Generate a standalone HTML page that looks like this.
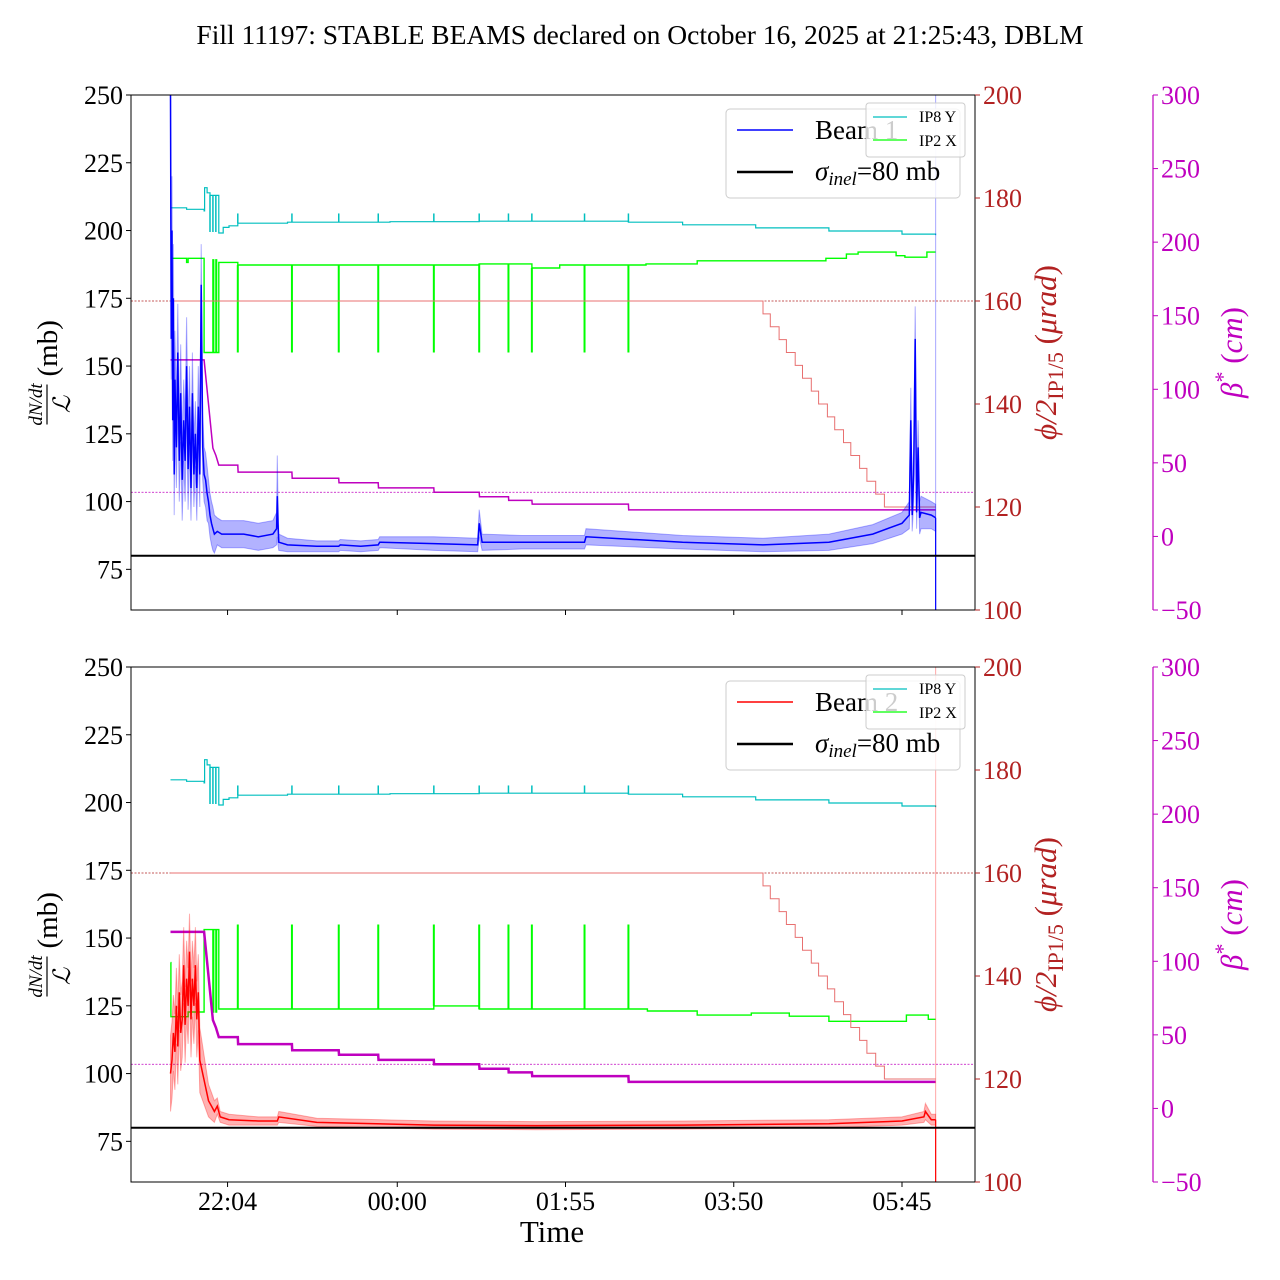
<!DOCTYPE html>
<html><head><meta charset="utf-8"><style>
html,body{margin:0;padding:0;background:#fff;}
svg{display:block;font-family:"Liberation Serif",serif;}
</style></head><body>
<svg id="chart" width="1280" height="1280" viewBox="0 0 1280 1280" xmlns="http://www.w3.org/2000/svg">
<text x="640" y="44" font-size="27.5" text-anchor="middle">Fill 11197: STABLE BEAMS declared on October 16, 2025 at 21:25:43, DBLM</text>
<text x="552" y="1242" font-size="31" text-anchor="middle">Time</text>
</svg>
<script>
// ---- data (time in minutes since 21:25) ----
const xTickMin = [39, 155, 270, 385, 500];
const xTickLabels = ["22:04", "00:00", "01:55", "03:50", "05:45"];
const leftTicks = [75, 100, 125, 150, 175, 200, 225, 250];
const redTicks = [100, 120, 140, 160, 180, 200];
const magTicks = [-50, 0, 50, 100, 150, 200, 250, 300];

const b1T = [0,0.5,1,1.5,2,2.5,3,4,5,6,7,8,9,10,11,12,13,14,15,16,17,18,19,20,21,22,23,24,25,26,27,28,29,30,32,35,40,50,60,70,72.5,73,73.5,74,80,100,115,116,130,142,143,180,210,211,213,240,283,284,350,405,450,480,500,505,506,507,508,509,510,511,512,513,520,523];
const b1V = [250,160,200,130,175,110,145,120,155,115,140,108,130,115,150,112,135,105,140,110,125,105,135,110,180,120,110,108,103,100,95,92,90,88,89,88,88,88,87,88,90,102,92,85,84,83.5,83.5,84,83.5,84,85,84.5,84,92,85,85,85,87,85,84,85,88,92,95,130,95,110,160,96,120,94,96,95,94];
const b1Err = [20,15,20,15,20,15,18,15,18,15,18,15,15,15,18,15,15,12,15,12,12,12,15,12,15,12,10,10,10,8,8,8,8,7,5,5,5,5,5,5,6,15,8,3,2.5,2,2,2,2,2,2,2.5,2.5,5,3,2.5,2.5,3,2.5,2.5,3,3.5,4,5,12,6,10,12,6,10,6,6,5,5];

const b2T = [0,1,2,3,4,5,6,7,8,9,10,11,12,13,14,15,16,17,18,19,20,22,24,26,28,30,32,34,40,60,73,74,100,180,250,350,450,500,515,516,520,523];
const b2V = [100,105,115,108,125,110,130,115,120,140,118,135,125,145,120,135,125,140,120,130,105,100,95,90,88,86,88,84,83,82.5,82.5,84,82,81,80.8,81,81.5,82.5,84,86,83,83];
const b2Err = [14,14,14,14,14,14,14,14,14,14,14,14,14,14,14,14,14,14,14,14,12,10,8,6,5,4,3,2,2,1.5,1.5,2,1.5,1.5,1.5,1.5,1.5,1.5,2,3,2,2];

const cyT = [0,11,23,23.3,25,27,33,36,40,46,80,150,211,250,313,350,400,450,500,523];
const cyV = [178.1,177.8,177.5,182,181,180.5,173.2,174.3,174.6,175.1,175.3,175.4,175.5,175.5,175.3,174.8,174.2,173.6,173,172.8];
const cySpikeT = [27, 29, 31];
const cySpikeDownV = 173.4;
const cyBlipT = [46, 83, 115, 142, 180, 211, 231, 247, 283, 313];
const cyBlipV = 177;

const gTopT = [0,0.5,11,12,23,29,29.5,31,31.5,33,46,211,247,266,325,360,448,462,470,496,502,517,523];
const gTopV = [155,168.3,167.5,168.3,150,168,150,168,150,167.5,167,167.2,166.4,167,167.2,167.8,168.3,169.1,169.5,168.8,168.5,169.5,169.5];
const gBotT = [0,0.3,12,23,29,29.5,31,31.5,33,180,211,326,360,397,423,450,503,518,523];
const gBotV = [142.6,132.1,133,149,133,149,133,149,133.6,134.2,133.6,133.2,132.4,132.8,132.2,131.2,132.4,131.6,131.6];
const gSpikeT = [46,83,115,142,180,211,231,247,283,313];
const gTopSpikeV = 150;
const gBotSpikeV = 150;

const phiT = [0,405,410,416,421,427,432,438,443,449,454,460,465,471,476,482,488,523];
const phiV = [160,157.5,155,152.5,150,147.5,145,142.5,140,137.5,135,132.5,130,127.5,125,122.5,120,120];

const mgT = [0,23,29,31,33,46,46.2,83,83.2,115,115.2,142,142.2,180,180.2,211,211.2,231,231.2,247,247.2,313,313.2,523];
const mgV = [120,120,60,55,48.5,48.5,43.7,43.7,39.6,39.6,36.5,36.5,33,33,30,30,27,27,24.5,24.5,22,22,18,18];

const sigmaInel = 80;
const phiRef = 160;
const betaRef = 30;

// ---- layout ----
const svg = document.getElementById('chart');
const NS = 'http://www.w3.org/2000/svg';
const X0 = 131, X1 = 975, H = 515;
const RED = '#b22222', MAG = '#bf00bf';
function xs(t){ return 170.5 + t*1.463; }
function mk(tag, attrs, parent){ const e=document.createElementNS(NS,tag); for(const k in attrs) e.setAttribute(k, attrs[k]); (parent||svg).appendChild(e); return e; }
function txt(s, attrs, parent){ const e=mk('text', attrs, parent); e.textContent=s; return e; }
function stepPath(T,V,ys){ let d=''; for(let i=0;i<T.length;i++){ const x=xs(T[i]).toFixed(1), y=ys(V[i]).toFixed(1); if(i===0) d+='M'+x+','+y; else d+='H'+x+'V'+y; } return d; }
function linePath(T,V,ys){ return T.map((t,i)=>(i?'L':'M')+xs(t).toFixed(1)+','+ys(V[i]).toFixed(1)).join(''); }
function baseAt(T,V,t){ let b=V[0]; for(let i=0;i<T.length;i++){ if(T[i]<=t) b=V[i]; } return b; }

function panel(y0, idx){
  const yL=v=>y0+(250-v)/190*H, yR=v=>y0+(200-v)/100*H, yM=v=>y0+(300-v)/350*H;
  const g = mk('g', {}); 
  
  
  const clipId='clip'+idx;
  const cp=mk('clipPath',{id:clipId},g); mk('rect',{x:X0,y:y0,width:X1-X0,height:H},cp);
  const plot=mk('g',{'clip-path':'url(#'+clipId+')'},g);
  const r1=mk('line',{x1:X0,x2:X1,y1:yR(phiRef),y2:yR(phiRef),stroke:RED,'stroke-width':0.8,'stroke-dasharray':'2,1.5'},plot);
   
  const r2=mk('line',{x1:X0,x2:X1,y1:yM(betaRef),y2:yM(betaRef),stroke:MAG,'stroke-width':0.8,'stroke-dasharray':'2,1.5'},plot);
   
  // cyan
  const cy=mk('path',{d:stepPath(cyT,cyV,yR),fill:'none',stroke:'#00bfbf','stroke-width':1.2},plot);
   
  cySpikeT.forEach(t=>{ const s=mk('line',{x1:xs(t),x2:xs(t),y1:yR(baseAt(cyT,cyV,t)),y2:yR(cySpikeDownV),stroke:'#00bfbf','stroke-width':1.5},plot);
      });
  cyBlipT.forEach(t=>{ const s=mk('line',{x1:xs(t),x2:xs(t),y1:yR(baseAt(cyT,cyV,t)),y2:yR(cyBlipV),stroke:'#00bfbf','stroke-width':1.5},plot);
      });
  // green
  const GT = idx===1?gTopT:gBotT, GV = idx===1?gTopV:gBotV, SV = idx===1?gTopSpikeV:gBotSpikeV;
  const gl=mk('path',{d:stepPath(GT,GV,yR),fill:'none',stroke:'#00ff00','stroke-width':1.4},plot);
   
  gSpikeT.forEach(t=>{
    const s=mk('line',{x1:xs(t),x2:xs(t),y1:yR(baseAt(GT,GV,t)),y2:yR(SV),stroke:'#00ff00','stroke-width':2},plot);
     
  });
  // phi
  const ph=mk('path',{d:stepPath(phiT,phiV,yR),fill:'none',stroke:'#e87070','stroke-width':1},plot);
   
  // magenta
  const mg=mk('path',{d:linePath(mgT,mgV,yM),fill:'none',stroke:MAG,'stroke-width':idx===1?1.5:2.5},plot);
   
  // beam
  const T = idx===1?b1T:b2T, V = idx===1?b1V:b2V, E = idx===1?b1Err:b2Err;
  const col = idx===1?'#0000ff':'#ff0000';
  let d='M'+T.map((t,i)=>xs(t).toFixed(1)+','+yL(V[i]+E[i]).toFixed(1)).join('L');
  for(let i=T.length-1;i>=0;i--) d+='L'+xs(T[i]).toFixed(1)+','+yL(V[i]-E[i]).toFixed(1);
  const band=mk('path',{d:d+'Z',fill:col,'fill-opacity':0.3,stroke:col,'stroke-opacity':0.3,'stroke-width':1},plot);
   
  const bl=mk('path',{d:linePath(T,V,yL),fill:'none',stroke:col,'stroke-width':1.5},plot);
   
  const xe=xs(T[T.length-1]);
  const vl=mk('line',{x1:xe,x2:xe,y1:y0,y2:y0+H,stroke:col,'stroke-width':1,'stroke-opacity':0.35},plot);
   
  const vl2=mk('line',{x1:xe,x2:xe,y1:yL(V[V.length-1]),y2:y0+H,stroke:col,'stroke-width':1.2},plot);
   
  const sl=mk('line',{x1:X0,x2:X1,y1:yL(sigmaInel),y2:yL(sigmaInel),stroke:'#000','stroke-width':2},plot);
   
  mk('rect',{x:X0,y:y0,width:X1-X0,height:H,fill:'none',stroke:'#000','stroke-width':1},g);
  leftTicks.forEach(v=>{ mk('line',{x1:X0-5,x2:X0,y1:yL(v),y2:yL(v),stroke:'#000'},g);
    const t=txt(String(v),{x:X0-8,y:yL(v)+9,'font-size':26,'text-anchor':'end'},g);
      });
  redTicks.forEach(v=>{ mk('line',{x1:X1,x2:X1+5,y1:yR(v),y2:yR(v),stroke:RED},g);
    const t=txt(String(v),{x:X1+8,y:yR(v)+9,'font-size':26,fill:RED},g);
      });
  mk('line',{x1:1153,x2:1153,y1:y0,y2:y0+H,stroke:MAG,'stroke-width':1.2},g);
  magTicks.forEach(v=>{ mk('line',{x1:1153,x2:1158,y1:yM(v),y2:yM(v),stroke:MAG},g);
    const t=txt(v<0?'\u2212'+(-v):String(v),{x:1161,y:yM(v)+9,'font-size':26,fill:MAG},g);
      });
  xTickMin.forEach((m,i)=>{ mk('line',{x1:xs(m),x2:xs(m),y1:y0+H,y2:y0+H+5,stroke:'#000'},g);
    if(idx===2){ const t=txt(xTickLabels[i],{x:xs(m),y:y0+H+28,'font-size':26,'text-anchor':'middle'},g);
        } });
  const cyc=y0+H/2;
  const ll=mk('g',{transform:'translate(47,'+cyc+') rotate(-90)'},g);
   
  txt('dN/dt',{x:-52,y:-5,'font-size':19,'font-style':'italic','text-anchor':'middle'},ll);
  mk('line',{x1:-72,x2:-32,y1:0,y2:0,stroke:'#000','stroke-width':1.2},ll);
  txt('\u2112',{x:-52,y:23,'font-size':24,'font-style':'italic','text-anchor':'middle'},ll);
  txt('(mb)',{x:-24,y:10,'font-size':29},ll);
  const rl=mk('g',{transform:'translate(1056,'+cyc+') rotate(-90)'},g);
   
  const rt=txt('',{x:0,y:0,'font-size':31,fill:RED,'text-anchor':'middle'},rl);
  rt.innerHTML='<tspan font-style="italic">\u03d5/2</tspan><tspan font-size="22" dy="7">IP1/5</tspan><tspan dy="-7"> (</tspan><tspan font-style="italic">\u03bcrad</tspan>)';
  const ml=mk('g',{transform:'translate(1242,'+cyc+') rotate(-90)'},g);
   
  const mt=txt('',{x:0,y:0,'font-size':31,fill:MAG,'text-anchor':'middle'},ml);
  mt.innerHTML='<tspan font-style="italic">\u03b2</tspan><tspan font-size="22" dy="-12">*</tspan><tspan dy="12"> (</tspan><tspan font-style="italic">cm</tspan>)';
  const lg=mk('g',{},g);  
  mk('rect',{x:726,y:y0+14,width:234,height:89,rx:4,fill:'#fff','fill-opacity':0.8,stroke:'#ccc'},lg);
  mk('line',{x1:737,x2:793,y1:y0+35,y2:y0+35,stroke:col,'stroke-width':1.5},lg);
  txt('Beam '+idx,{x:815,y:y0+44,'font-size':27},lg);
  mk('line',{x1:737,x2:793,y1:y0+77,y2:y0+77,stroke:'#000','stroke-width':2.5},lg);
  const st=txt('',{x:815,y:y0+85,'font-size':27},lg);
  st.innerHTML='<tspan font-style="italic">\u03c3</tspan><tspan font-style="italic" font-size="19" dy="5">inel</tspan><tspan dy="-5">=80 mb</tspan>';
  const lg2=mk('g',{},g);  
  mk('rect',{x:866,y:y0+8,width:99,height:54,rx:3,fill:'#fff','fill-opacity':0.8,stroke:'#ccc'},lg2);
  mk('line',{x1:873,x2:907,y1:y0+22,y2:y0+22,stroke:'#00bfbf','stroke-width':1.2},lg2);
  txt('IP8 Y',{x:919,y:y0+27,'font-size':16},lg2);
  mk('line',{x1:873,x2:907,y1:y0+45,y2:y0+45,stroke:'#00ff00','stroke-width':1.2},lg2);
  txt('IP2 X',{x:919,y:y0+51,'font-size':16},lg2);
}
panel(95,1);
panel(667,2);
</script>
</body></html>
